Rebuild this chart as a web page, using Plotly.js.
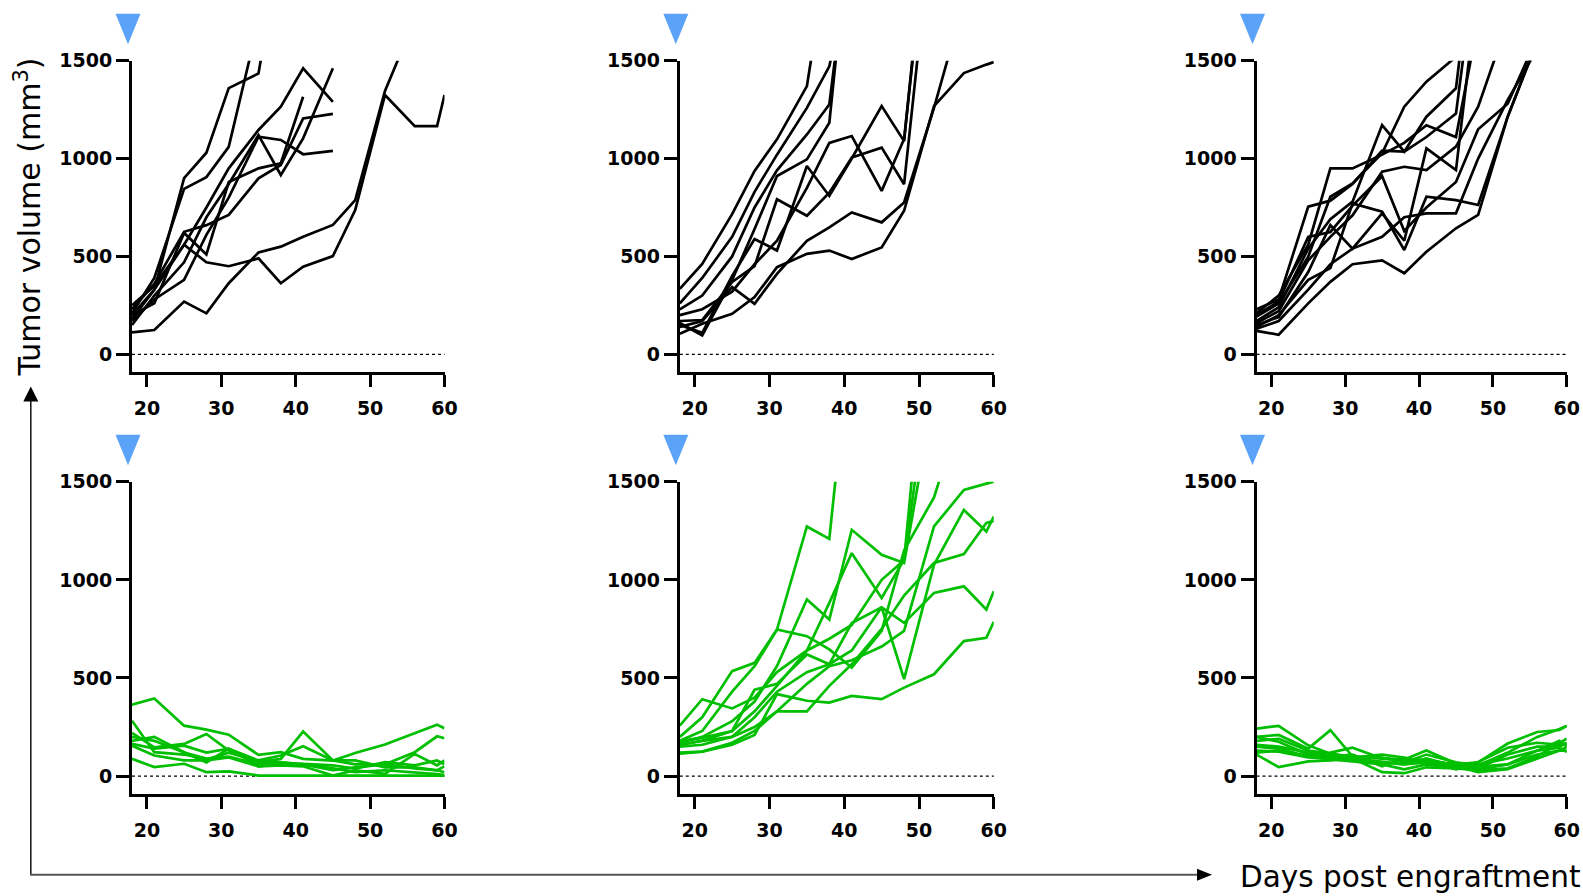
<!DOCTYPE html>
<html>
<head>
<meta charset="utf-8">
<script src="https://cdn.plot.ly/plotly-3.0.1.min.js"></script>
<style>html,body{margin:0;padding:0;background:#fff;}#chart{width:1583px;height:896px;}</style>
</head>
<body>
<div id="chart"></div>
<script>
// ---------------- data ----------------
const days = [18, 21, 25, 28, 31, 35, 38, 41, 45, 48, 52, 56, 59, 60];
const xTicks = [20, 30, 40, 50, 60];
const yTicks = [0, 500, 1000, 1500];
const yTickText = ['0', '500', '1000', '1500'];

// top row (black) – tumour volume per mouse, mm^3
const panel1 = [
  [180, 330, 900, 1030, 1360, 1435, 2100],
  [210, 390, 845, 905, 1060, 1700],
  [250, 350, 560, 750, 950, 1146, 1265, 1461, 1290],
  [150, 300, 470, 700, 870, 1120, 916, 1103, 1461],
  [230, 360, 626, 660, 712, 899, 967, 1205, 1228],
  [170, 280, 380, 610, 800, 1112, 1095, 1022, 1039],
  [200, 260, 620, 510, 880, 950, 976, 1316],
  [112, 124, 269, 209, 363, 520, 550, 601, 661, 788, 1345, 1710],
  [200, 330, 560, 470, 450, 490, 363, 448, 502, 737, 1325, 1166, 1166, 1325]
];
const panel2 = [
  [334, 462, 716, 937, 1098, 1370, 2100],
  [260, 390, 600, 830, 1020, 1259, 1471, 2000],
  [230, 300, 500, 750, 940, 1123, 1276, 2200],
  [160, 97, 380, 640, 911, 996, 1183, 2300],
  [150, 110, 400, 589, 530, 962, 809, 1000, 1268, 1089, 2600],
  [170, 175, 370, 450, 792, 708, 826, 1005, 1056, 869, 2300],
  [200, 230, 320, 460, 580, 850, 1080, 1115, 835, 1100, 2500],
  [140, 170, 343, 258, 411, 580, 648, 725, 674, 776, 1259, 1800],
  [105, 156, 207, 292, 445, 513, 530, 487, 546, 733, 1268, 1437, 1480, 1493]
];
const panel3 = [
  [192, 260, 499, 805, 873, 1027, 1265, 1393, 1520],
  [230, 280, 754, 785, 870, 1040, 1035, 1110, 1230, 2100],
  [210, 300, 560, 950, 950, 1020, 1080, 1170, 1110, 1700],
  [170, 240, 540, 690, 780, 1171, 1035, 1214, 1359, 2300],
  [160, 220, 480, 600, 710, 933, 958, 941, 1061, 1265, 1700],
  [150, 190, 420, 660, 540, 720, 580, 1052, 941, 1900],
  [140, 200, 380, 440, 771, 729, 533, 805, 788, 763, 1214, 1600],
  [130, 170, 330, 460, 540, 600, 700, 720, 720, 1000, 1300, 1560],
  [120, 100, 260, 370, 460, 480, 414, 524, 644, 712, 1214, 1600],
  [200, 270, 600, 625, 760, 910, 630, 750, 880, 1150, 1280, 1620]
];

// bottom row (green)
const panel4 = [
  [364, 396, 257, 237, 211, 108, 122, 88, 79, 118, 161, 220, 262, 244],
  [282, 122, 110, 85, 120, 75, 70, 60, 40, 20, 30, 20, 10, 5],
  [220, 147, 164, 215, 130, 71, 88, 227, 80, 80, 45, 45, 30, 20],
  [180, 200, 122, 70, 140, 80, 105, 152, 80, 60, 60, 122, 203, 193],
  [88, 46, 63, 20, 24, 3, 3, 3, 3, 3, 3, 3, 3, 3],
  [165, 140, 155, 120, 140, 50, 55, 50, 3, 30, 12, 113, 55, 80],
  [155, 105, 80, 80, 95, 50, 62, 62, 55, 38, 71, 55, 80, 60],
  [200, 180, 120, 90, 100, 60, 70, 60, 30, 45, 60, 40, 30, 50]
];
const panel5 = [
  [200, 300, 535, 577, 747, 1272, 1209, 2300],
  [257, 392, 345, 400, 530, 640, 700, 770, 1000, 1100, 2700],
  [170, 200, 280, 380, 561, 900, 798, 1255, 1128, 1086, 1950],
  [160, 180, 230, 330, 460, 640, 883, 1136, 908, 1103, 2200],
  [180, 230, 430, 560, 747, 713, 646, 553, 740, 1150, 1420, 1900],
  [180, 195, 230, 440, 470, 620, 570, 640, 860, 494, 1077, 1356, 1246, 1322],
  [150, 160, 200, 300, 430, 530, 570, 780, 860, 781, 933, 967, 849, 942],
  [120, 125, 170, 230, 330, 470, 560, 590, 660, 740, 1272, 1458, 1490, 1500],
  [115, 125, 160, 210, 418, 384, 375, 409, 392, 451, 519, 688, 705, 786],
  [160, 180, 200, 250, 330, 330, 460, 570, 750, 920, 1086, 1131, 1290, 1300]
];
const panel6 = [
  [242, 256, 157, 114, 100, 90, 80, 80, 60, 70, 166, 225, 235, 256],
  [200, 210, 140, 234, 100, 95, 70, 110, 70, 55, 120, 200, 240, 256],
  [110, 46, 75, 80, 90, 75, 60, 70, 55, 35, 60, 130, 180, 150],
  [150, 140, 100, 120, 145, 90, 85, 131, 65, 40, 110, 150, 150, 170],
  [200, 175, 110, 100, 90, 20, 15, 45, 40, 30, 40, 100, 170, 191],
  [130, 125, 95, 90, 85, 70, 60, 90, 50, 20, 35, 90, 130, 148],
  [180, 190, 130, 115, 95, 110, 95, 70, 45, 72, 145, 170, 160, 166],
  [160, 150, 120, 100, 110, 50, 90, 80, 35, 60, 90, 130, 145, 123],
  [120, 130, 100, 85, 75, 60, 35, 60, 40, 50, 60, 110, 130, 130]
];

const panels = [panel1, panel2, panel3, panel4, panel5, panel6];
const panelColors = ['#000000', '#000000', '#000000', '#00BE00', '#00BE00', '#00BE00'];

// ---------------- layout ----------------
const W = 1583, H = 896;
const px = v => v / W;
const py = v => 1 - v / H;
const colPx = [[132, 444.5], [679.8, 993.8], [1256.5, 1566.8]];
const rowPx = [[60.7, 372.3], [481.7, 794.2]];

const tickFont = {family: 'DejaVu Sans', size: 19, weight: 'bold', color: '#000'};
const traces = [];
const layout = {
  width: W, height: H,
  margin: {l: 0, r: 0, t: 0, b: 0},
  paper_bgcolor: '#ffffff', plot_bgcolor: 'rgba(0,0,0,0)',
  showlegend: false,
  shapes: [], annotations: []
};

panels.forEach((series, p) => {
  const i = p + 1;
  const col = p % 3, row = Math.floor(p / 3);
  const xa = 'xaxis' + (i === 1 ? '' : i), ya = 'yaxis' + (i === 1 ? '' : i);
  const xr = 'x' + (i === 1 ? '' : i), yr = 'y' + (i === 1 ? '' : i);
  layout[xa] = {
    domain: [px(colPx[col][0]), px(colPx[col][1])],
    range: [18, 60], tickvals: xTicks, ticks: 'outside', ticklen: 12, tickwidth: 3,
    tickcolor: '#000', showline: true, linewidth: 3, linecolor: '#000',
    showgrid: false, zeroline: false, tickfont: tickFont, ticklabelstandoff: 5,
    anchor: yr, fixedrange: true
  };
  layout[ya] = {
    domain: [py(rowPx[row][1]), py(rowPx[row][0])],
    range: [-92, 1500], tickvals: yTicks, ticktext: yTickText, ticks: 'outside', ticklen: 13, tickwidth: 3,
    tickcolor: '#000', showline: true, linewidth: 3, linecolor: '#000',
    showgrid: false, zeroline: false, tickfont: tickFont, anchor: xr, fixedrange: true
  };
  series.forEach(vals => {
    traces.push({
      type: 'scatter', mode: 'lines',
      x: days.slice(0, vals.length), y: vals,
      xaxis: xr, yaxis: yr,
      line: {color: panelColors[p], width: 2.7},
      hoverinfo: 'skip', showlegend: false
    });
  });
  // dotted zero reference line
  layout.shapes.push({
    type: 'line', xref: xr + ' domain', yref: yr, x0: 0, x1: 1, y0: 0, y1: 0,
    line: {color: '#000', width: 1.2, dash: 'dot'}, layer: 'below'
  });
  // blue dosing triangle above the y axis
  layout.shapes.push({
    type: 'path', xref: xr + ' domain', yref: yr + ' domain',
    xsizemode: 'pixel', ysizemode: 'pixel', xanchor: 0, yanchor: 1,
    path: 'M -16.5,47 L 8.5,47 L -4,16.5 Z',
    fillcolor: '#5BA3F8', line: {width: 0}
  });
});

layout.yaxis.title = {
  text: 'Tumor volume (mm<sup>3</sup>)',
  font: {family: 'DejaVu Sans', size: 30, color: '#000'},
  standoff: 10
};

// axis arrows
layout.shapes.push({
  type: 'path', xref: 'paper', yref: 'paper',
  path: `M ${px(30.8)},${py(874.7)} L ${px(30.8)},${py(400)}`,
  line: {color: '#111', width: 1.5}
});
layout.shapes.push({
  type: 'path', xref: 'paper', yref: 'paper',
  path: `M ${px(30.8)},${py(386.5)} L ${px(23.3)},${py(401.5)} L ${px(38.3)},${py(401.5)} Z`,
  fillcolor: '#000', line: {width: 0}
});
layout.shapes.push({
  type: 'path', xref: 'paper', yref: 'paper',
  path: `M ${px(30)},${py(874.7)} L ${px(1198)},${py(874.7)}`,
  line: {color: '#555', width: 2}
});
layout.shapes.push({
  type: 'path', xref: 'paper', yref: 'paper',
  path: `M ${px(1212)},${py(874.7)} L ${px(1197)},${py(868.7)} L ${px(1197)},${py(880.7)} Z`,
  fillcolor: '#000', line: {width: 0}
});

layout.annotations.push({
  text: 'Days post engraftment', showarrow: false,
  xref: 'paper', yref: 'paper', x: px(1238), y: py(877),
  xanchor: 'left', yanchor: 'middle',
  font: {family: 'DejaVu Sans', size: 29.5, color: '#000'}
});

Plotly.newPlot('chart', traces, layout, {staticPlot: true, displayModeBar: false});
</script>
</body>
</html>
